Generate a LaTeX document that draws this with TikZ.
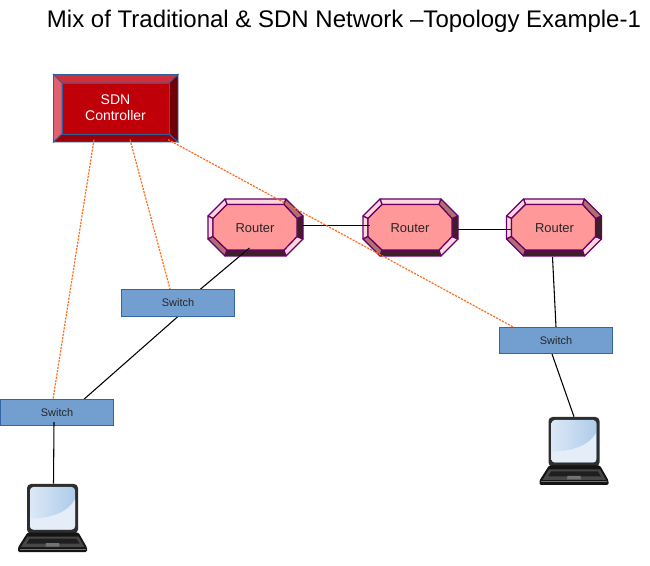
\documentclass[tikz,border=0pt]{standalone}
\usepackage{fontspec}
\setmainfont{Liberation Sans}
\definecolor{rface}{HTML}{FF9999}
\definecolor{rlight}{HTML}{FFD6DC}
\definecolor{rmid}{HTML}{B07070}
\definecolor{rdark}{HTML}{3D1F28}
\definecolor{rline}{HTML}{660066}
\definecolor{cface}{HTML}{C00008}
\definecolor{ctop}{HTML}{D0303C}
\definecolor{cleft}{HTML}{E06070}
\definecolor{cright}{HTML}{700008}
\definecolor{cbot}{HTML}{990008}
\definecolor{cline}{HTML}{2F5F9F}
\definecolor{sface}{HTML}{729FCF}
\definecolor{sline}{HTML}{3465A4}
\definecolor{orangeln}{HTML}{FF6D1F}
\definecolor{scrA}{HTML}{DCE8F6}
\definecolor{scrB}{HTML}{AECBEA}
\definecolor{scrC}{HTML}{E4EDF8}
\tikzset{
 x=0.75pt,y=-0.75pt,
 switchbox/.style={draw=sline,fill=sface,line width=0.9pt,minimum width=84.5pt,minimum height=19.8pt,inner sep=0pt,font=\fontsize{8.2}{10}\selectfont,text=black!85},
 routerlabel/.style={minimum width=71.25pt,minimum height=43pt,inner sep=0pt,font=\fontsize{9.7}{11}\selectfont,text=black!85},
 ctrllabel/.style={minimum width=93.75pt,minimum height=51pt,inner sep=0pt,align=center,text=white,font=\fontsize{10.5}{12}\selectfont},
 laptopbox/.style={minimum width=38pt,minimum height=36.75pt,inner sep=0pt},
 link/.style={draw=black,line width=0.8pt},
 ctrl/.style={draw=orangeln,line width=0.9pt,dash pattern=on 1.6pt off 0.9pt},
 bev/.style={draw=rline,line width=0.9pt,line join=round},
 cbev/.style={draw=cline,line width=0.7pt,line join=miter}
}
\newcommand{\routershape}[2]{%
\begin{scope}[shift={(#1,#2)}]
 \path[bev,fill=rlight] (-30.5,-28.5)--(30.5,-28.5)--(28.5,-23)--(-28.5,-23)--cycle;
 \path[bev,fill=rlight] (-47.5,-11.5)--(-30.5,-28.5)--(-28.5,-23)--(-42.5,-9)--cycle;
 \path[bev,fill=rlight] (-47.5,-11.5)--(-42.5,-9)--(-42.5,9)--(-47.5,11.5)--cycle;
 \path[bev,fill=rmid] (-47.5,11.5)--(-42.5,9)--(-28.5,22.5)--(-30.5,28.5)--cycle;
 \path[bev,fill=rdark] (-30.5,28.5)--(-28.5,22.5)--(28.5,22.5)--(30.5,28.5)--cycle;
 \path[bev,fill=rlight] (30.5,28.5)--(28.5,22.5)--(41.5,9)--(47.5,11.5)--cycle;
 \path[bev,fill=rdark] (47.5,11.5)--(41.5,9)--(41.5,-9)--(47.5,-11.5)--cycle;
 \path[bev,fill=rmid] (47.5,-11.5)--(41.5,-9)--(28.5,-23)--(30.5,-28.5)--cycle;
 \path[bev,fill=rface] (-28.5,-23)--(28.5,-23)--(41.5,-9)--(41.5,9)--(28.5,22.5)--(-28.5,22.5)--(-42.5,9)--(-42.5,-9)--cycle;
\end{scope}}
\newcommand{\laptopshape}[2]{%
\begin{scope}[shift={(#1,#2)}]
 % origin = screen centre
 \fill[black!82,rounded corners=3pt] (-25.5,-24.5) rectangle (25.5,25);
 \fill[rounded corners=2.5pt,left color=scrA,right color=scrB] (-22.5,-21.5) rectangle (22.5,21);
 \begin{scope}
  \clip[rounded corners=2.5pt] (-22.5,-21.5) rectangle (22.5,21);
  \fill[scrC] (-22.5,10) .. controls (0,10) and (16,3) .. (22.5,-9) -- (22.5,21) -- (-22.5,21) -- cycle;
 \end{scope}
 \fill[black!92,rounded corners=1pt] (-25,24)--(26,24)--(34.5,39)--(34.5,43.5)--(-34.5,43.5)--(-34.5,39)--cycle;
 \fill[black!72] (-25,28)--(26,28)--(32,38.5)--(-31.5,38.5)--cycle;
 \fill[black!88] (-23,30)--(24,30)--(27,35)--(-26,35)--cycle;
 \fill[black!55] (-6.5,34.5)--(6.5,34.5)--(7,38)--(-7,38)--cycle;
 \fill[black!55] (-33,40)--(33,40)--(33,41)--(-33,41)--cycle;
\end{scope}}
\begin{document}
\begin{tikzpicture}
\useasboundingbox (0,0) rectangle (650,566);
\node[anchor=base,font=\fontsize{18}{20}\selectfont,text=black] (title) at (344,27.5) {Mix of Traditional \& SDN Network –Topology Example-1};
% routers
\routershape{255.5}{227.5}
\routershape{410.5}{227.5}
\routershape{554}{227.5}
\node[routerlabel] (r1) at (255,228) {Router};
\node[routerlabel] (r2) at (410,228) {Router};
\node[routerlabel] (r3) at (554.5,228) {Router};
% controller
\path[cbev,fill=ctop] (53.5,74.5)--(178,74.5)--(169,83)--(62,83)--cycle;
\path[cbev,fill=cleft] (53.5,74.5)--(62,83)--(62,134)--(53.5,142)--cycle;
\path[cbev,fill=cright] (178,74.5)--(178,142)--(169,134)--(169,83)--cycle;
\path[cbev,fill=cbot] (53.5,142)--(62,134)--(169,134)--(178,142)--cycle;
\path[cbev,fill=cface] (62,83) rectangle (169,134);
\node[ctrllabel] (c) at (115.5,108) {SDN\\Controller};
% laptops
\laptopshape{52.5}{508.5}
\laptopshape{574}{441.5}
\node[laptopbox] (l1) at (53.5,508.5) {};
\node[laptopbox] (l2) at (574,441.5) {};
% switch anchors (boxes drawn after the links)
\coordinate (s1c) at (178,303);
\coordinate (s2c) at (57,412.7);
\coordinate (s3c) at (556,340.5);
\node[minimum width=84.5pt,minimum height=19.8pt,inner sep=0pt] (s1) at (s1c) {};
\node[minimum width=84.5pt,minimum height=19.8pt,inner sep=0pt] (s2) at (s2c) {};
\node[minimum width=84.5pt,minimum height=19.8pt,inner sep=0pt] (s3) at (s3c) {};
% links
\draw[link] ([yshift=2pt]r1.east) -- ([xshift=6pt,yshift=2pt]r2.west);
\draw[link] ([yshift=-1pt]r2.east) -- ([xshift=3.4pt,yshift=-1pt]r3.west);
\draw[link] ([xshift=-4.1pt,yshift=6.75pt]r1.south) -- ([xshift=16.5pt]s1.north);
\draw[link] (s1.south) -- ([xshift=20.25pt]s2.north);
\draw[link] ([xshift=-1.5pt]r3.south) -- (s3.north);
\draw[link] ([xshift=-3pt]s3.south) -- (l2.north);
\draw[ctrl] ([xshift=-16.1pt,yshift=2pt]c.south) -- ([xshift=-3pt]s2.north);
\draw[ctrl] ([xshift=10.9pt,yshift=2pt]c.south) -- ([xshift=-5.9pt]s1.north);
\draw[ctrl] ([xshift=39.4pt,yshift=2pt]c.south) -- ([xshift=-32pt]s3.north);
% switches
\node[switchbox] at (s1c) {Switch};
\node[switchbox] at (s2c) {Switch};
\node[switchbox] at (s3c) {Switch};
\draw[link] ([xshift=-2.25pt,yshift=3pt]s2.south) -- (l1.north);
\end{tikzpicture}
\end{document}
